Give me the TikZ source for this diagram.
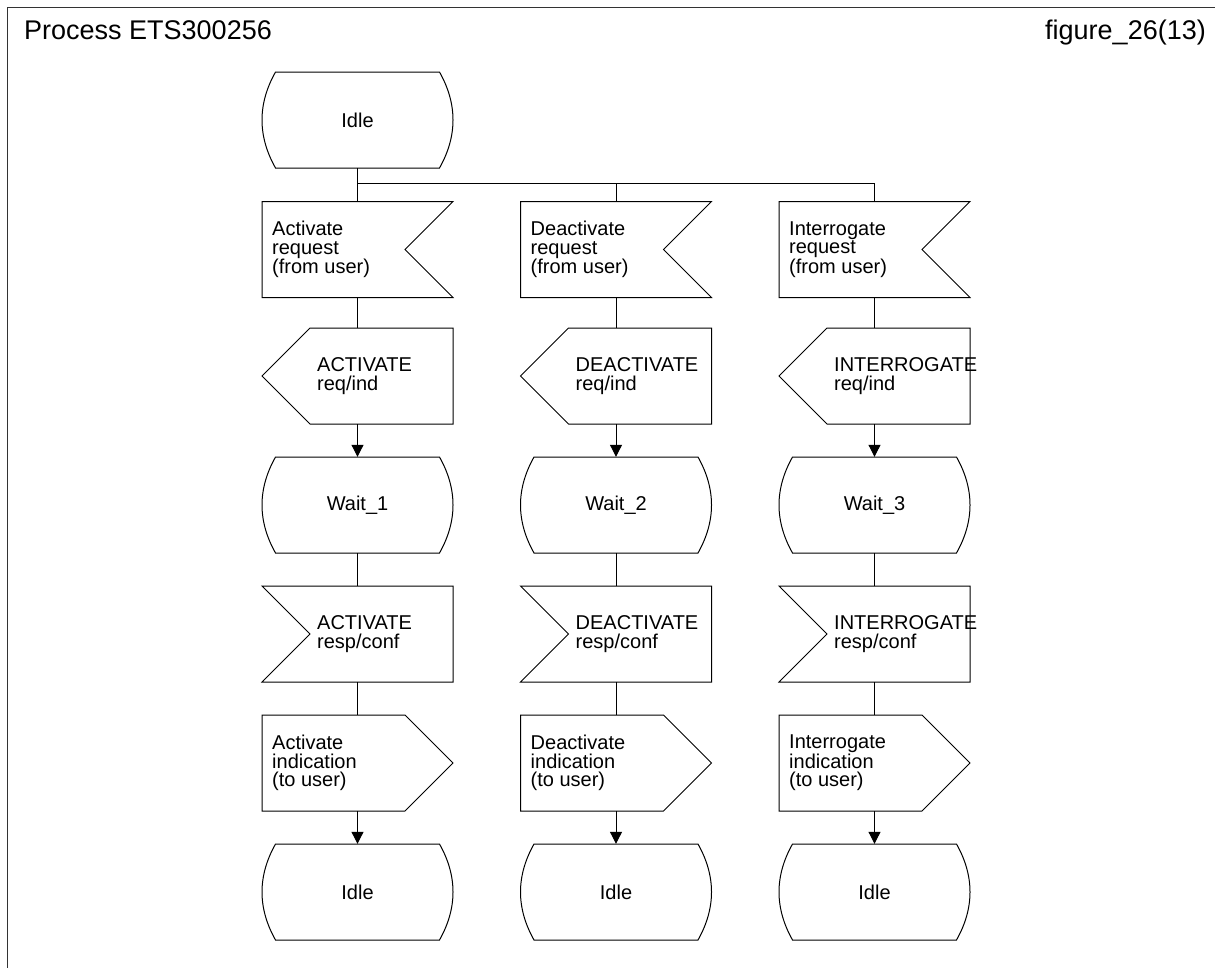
\documentclass[tikz,border=0pt]{standalone}
\usepackage{fontspec}
\setmainfont{Liberation Sans}
\usetikzlibrary{arrows.meta}

\tikzset{
  frame/.style={draw=black!80, line width=1.3pt},
  shapeline/.style={draw=black, line width=1pt},
  box/.style={rectangle, draw=none, minimum width=191pt, minimum height=96pt, inner sep=0pt},
  lbl/.style={font=\fontsize{20}{18.5}\selectfont, align=left, inner sep=0pt, anchor=west},
  ctext/.style={font=\fontsize{20}{18.5}\selectfont},
  titletext/.style={font=\fontsize{27}{32}\selectfont, inner sep=0pt},
  conn/.style={draw=black, line width=1pt},
  arr/.style={conn, -{Triangle[length=12pt,width=12pt]}},
}

% SDL state: flat top and bottom, bulging sides
\newcommand{\StateBox}[4]{%
  \node[box, ctext] (#1) at (#2,#3) {#4};
  \draw[shapeline, shift={(#2,#3)}] (-82,-48) -- (82,-48)
    .. controls (100,-16) and (100,16) .. (82,48) -- (-82,48)
    .. controls (-100,16) and (-100,-16) .. (-82,-48) -- cycle;
}
% input signal, notch on the right
\newcommand{\InNotchR}[4]{%
  \node[box] (#1) at (#2,#3) {};
  \node[lbl] (#1-t) at (#2-85.5,#3) {#4};
  \draw[shapeline, shift={(#2,#3)}] (-95.5,-48) -- (95.5,-48) -- (47.5,0)
    -- (95.5,48) -- (-95.5,48) -- cycle;
}
% input signal, notch on the left
\newcommand{\InNotchL}[4]{%
  \node[box] (#1) at (#2,#3) {};
  \node[lbl] (#1-t) at (#2-40.5,#3) {#4};
  \draw[shapeline, shift={(#2,#3)}] (-95.5,-48) -- (95.5,-48) -- (95.5,48)
    -- (-95.5,48) -- (-47.5,0) -- cycle;
}
% output signal, pointing left
\newcommand{\OutPointL}[4]{%
  \node[box] (#1) at (#2,#3) {};
  \node[lbl] (#1-t) at (#2-40.5,#3) {#4};
  \draw[shapeline, shift={(#2,#3)}] (-47.5,-48) -- (95.5,-48) -- (95.5,48)
    -- (-47.5,48) -- (-95.5,0) -- cycle;
}
% output signal, pointing right
\newcommand{\OutPointR}[4]{%
  \node[box] (#1) at (#2,#3) {};
  \node[lbl] (#1-t) at (#2-85.5,#3) {#4};
  \draw[shapeline, shift={(#2,#3)}] (-95.5,-48) -- (47.5,-48) -- (95.5,0)
    -- (47.5,48) -- (-95.5,48) -- cycle;
}

\begin{document}
\begin{tikzpicture}[x=1pt,y=-1pt]
\useasboundingbox (0,0) rectangle (1215,967);

% page frame
\draw[frame] (1240,7.5) -- (7.5,7.5) -- (7.5,990);

\node[titletext, anchor=base west] (title) at (24,39) {Process ETS300256};
\node[titletext, anchor=base east] (fig) at (1206,39) {figure\_26(13)};

% start state
\StateBox{idle0}{357.5}{120}{Idle}

% column 1: activate
\InNotchR{in1}{357.5}{249.5}{Activate\\request\\(from user)}
\OutPointL{req1}{357.5}{376}{ACTIVATE\\req/ind}
\StateBox{wait1}{357.5}{505}{Wait\_1}
\InNotchL{resp1}{357.5}{634}{ACTIVATE\\resp/conf}
\OutPointR{ind1}{357.5}{763}{Activate\\indication\\(to user)}
\StateBox{idle1}{357.5}{892}{Idle}

% column 2: deactivate
\InNotchR{in2}{616}{249.5}{Deactivate\\request\\(from user)}
\OutPointL{req2}{616}{376}{DEACTIVATE\\req/ind}
\StateBox{wait2}{616}{505}{Wait\_2}
\InNotchL{resp2}{616}{634}{DEACTIVATE\\resp/conf}
\OutPointR{ind2}{616}{763}{Deactivate\\indication\\(to user)}
\StateBox{idle2}{616}{892}{Idle}

% column 3: interrogate
\InNotchR{in3}{874.5}{249.5}{Interrogate\\request\\(from user)}
\OutPointL{req3}{874.5}{376}{INTERROGATE\\req/ind}
\StateBox{wait3}{874.5}{505}{Wait\_3}
\InNotchL{resp3}{874.5}{634}{INTERROGATE\\resp/conf}
\OutPointR{ind3}{874.5}{763}{Interrogate\\indication\\(to user)}
\StateBox{idle3}{874.5}{892}{Idle}

% fork below the start state
\coordinate (fork) at (357.5,183);
\draw[conn] (idle0) -- (fork) -- (in1);
\draw[conn] (fork) -| (in2);
\draw[conn] (fork) -| (in3);

% flow lines
\foreach \c in {1,2,3}{
  \draw[conn] (in\c) -- (req\c);
  \draw[arr] (req\c) -- (wait\c);
  \draw[conn] (wait\c) -- (resp\c);
  \draw[conn] (resp\c) -- (ind\c);
  \draw[arr] (ind\c) -- (idle\c);
}
\end{tikzpicture}
\end{document}
